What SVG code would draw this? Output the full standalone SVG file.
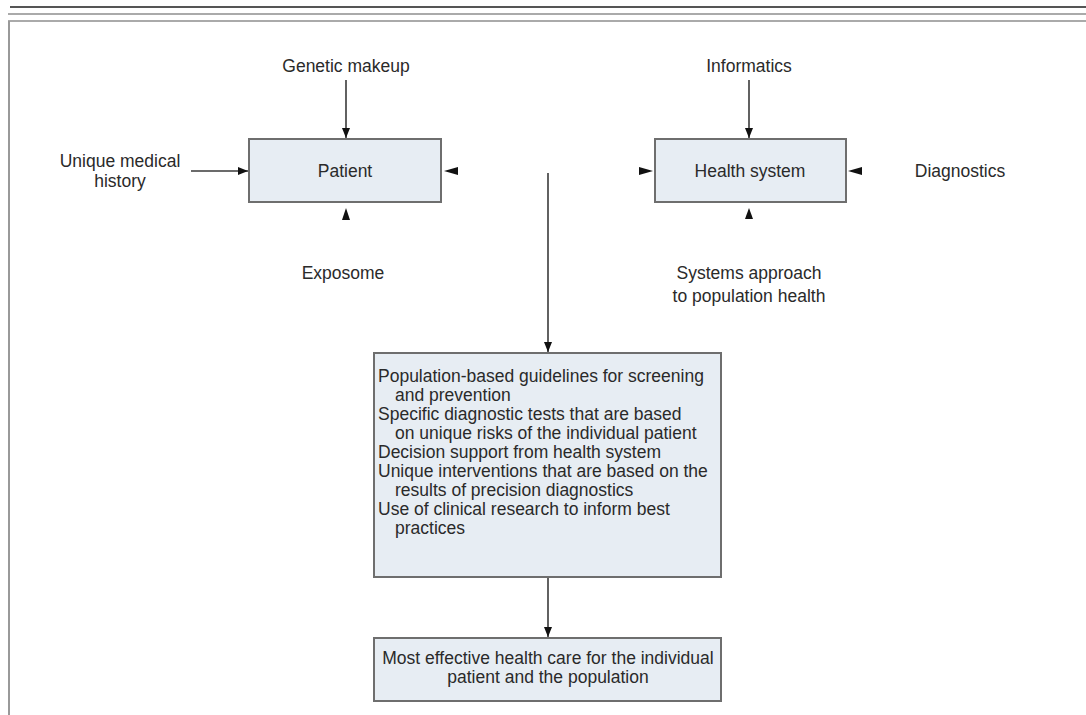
<svg xmlns="http://www.w3.org/2000/svg" width="1086" height="715" viewBox="0 0 1086 715">
<style>
text{font-family:"Liberation Sans",Arial,sans-serif;font-size:17.5px;fill:#2a2a2a}
.c{text-anchor:middle}
.box{fill:#e7edf3;stroke:#6e6e6e;stroke-width:2}
.ln{stroke:#3a3a3a;stroke-width:1.6;fill:none}
.ah{fill:#111}
</style>
<defs>
<marker id="arr" viewBox="0 0 10 8" refX="10" refY="4" markerWidth="10" markerHeight="8" markerUnits="userSpaceOnUse" orient="auto">
<path d="M0,0 L10,4 L0,8 Z" fill="#111"/>
</marker>
</defs>
<g id="frame">
<line x1="10" y1="7" x2="1086" y2="7" stroke="#555" stroke-width="2"/>
<line x1="8" y1="14" x2="1086" y2="14" stroke="#aaa" stroke-width="2"/>
<line x1="8" y1="21" x2="1086" y2="21" stroke="#aaa" stroke-width="2"/>
<line x1="9" y1="21" x2="9" y2="715" stroke="#999" stroke-width="2"/>
</g>
<g id="connectors">
<line class="ln" x1="346" y1="80" x2="346" y2="138" marker-end="url(#arr)"/>
<line class="ln" x1="191" y1="171" x2="248" y2="171" marker-end="url(#arr)"/>
<line class="ln" x1="749" y1="80" x2="749" y2="138" marker-end="url(#arr)"/>
<line class="ln" x1="548" y1="173" x2="548" y2="352" marker-end="url(#arr)"/>
<line class="ln" x1="548" y1="578" x2="548" y2="637" marker-end="url(#arr)"/>
<polygon class="ah" points="444,171 458,167 458,175"/>
<polygon class="ah" points="346,208 342,220 350,220"/>
<polygon class="ah" points="653,171 639,167 639,175"/>
<polygon class="ah" points="848,171 862,167 862,175"/>
<polygon class="ah" points="749,208 745,219 753,219"/>
</g>
<g id="genetic"><text class="c" x="346" y="72">Genetic makeup</text></g>
<g id="history"><text class="c" x="120" y="167">Unique medical</text><text class="c" x="120" y="187">history</text></g>
<g id="patient"><rect class="box" x="249" y="139" width="192" height="63"/><text class="c" x="345" y="177">Patient</text></g>
<g id="exposome"><text class="c" x="343" y="279">Exposome</text></g>
<g id="informatics"><text class="c" x="749" y="72">Informatics</text></g>
<g id="health"><rect class="box" x="655" y="139" width="191" height="63"/><text class="c" x="750" y="177">Health system</text></g>
<g id="diagnostics"><text class="c" x="960" y="177">Diagnostics</text></g>
<g id="systems"><text class="c" x="749" y="279">Systems approach</text><text class="c" x="749" y="302">to population health</text></g>
<g id="guidelines">
<rect class="box" x="374" y="353" width="347" height="224"/>
<text x="378" y="382">Population-based guidelines for screening</text>
<text x="395" y="401">and prevention</text>
<text x="378" y="420">Specific diagnostic tests that are based</text>
<text x="395" y="439">on unique risks of the individual patient</text>
<text x="378" y="458">Decision support from health system</text>
<text x="378" y="477">Unique interventions that are based on the</text>
<text x="395" y="496">results of precision diagnostics</text>
<text x="378" y="515">Use of clinical research to inform best</text>
<text x="395" y="534">practices</text>
</g>
<g id="outcome">
<rect class="box" x="374" y="638" width="347" height="63"/>
<text class="c" x="548" y="664">Most effective health care for the individual</text>
<text class="c" x="548" y="683">patient and the population</text>
</g>
</svg>
